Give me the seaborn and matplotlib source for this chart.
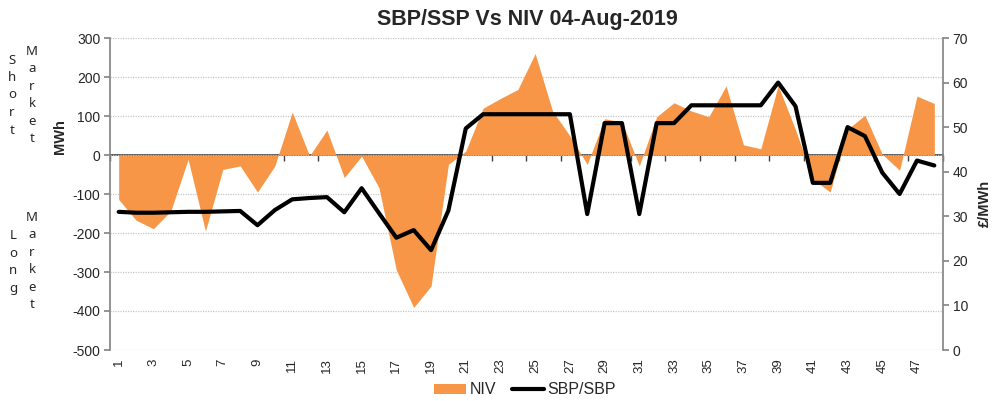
import numpy as np
import matplotlib
matplotlib.use("Agg")
import matplotlib.pyplot as plt
from matplotlib.patches import Patch
from matplotlib.lines import Line2D
import seaborn as sns

# Settlement periods and values
periods = list(range(1, 49))
niv = [-114, -167, -189, -144, -11, -195, -37, -28, -95, -28,
       110, -2, 64, -58, -3, -84, -295, -391, -336, -24,
       10, 120, 145, 168, 260, 113, 49, -24, 93, 85,
       -28, 98, 134, 113, 98, 177, 26, 16, 178, 65,
       -62, -95, 66, 102, 2, -39, 151, 132]
price = [31.0, 30.8, 30.8, 30.9, 31.0, 31.0, 31.1, 31.2, 28.0, 31.4,
         33.8, 34.1, 34.3, 30.9, 36.3, 30.7, 25.2, 26.9, 22.4, 31.3,
         49.7, 52.9, 52.9, 52.9, 52.9, 52.9, 52.9, 30.5, 50.9, 50.9,
         30.5, 50.9, 50.9, 54.9, 54.9, 54.9, 54.9, 54.9, 60.0, 54.7,
         37.5, 37.5, 50.0, 48.0, 39.8, 35.0, 42.5, 41.4]
label_periods = list(range(1, 49, 2))

sns.set_theme(style="white")
plt.rcParams['font.family'] = ['Liberation Sans', 'DejaVu Sans']
plt.rcParams['axes.unicode_minus'] = False

orange = "#F79646"
grey = "#868686"

fig = plt.figure(figsize=(9.93, 4.01), dpi=100)
ax = fig.add_axes([110 / 993, 1 - 350 / 401, 833 / 993, 312 / 401])

# NIV area
ax.fill_between(periods, niv, 0, color=orange, linewidth=0, zorder=2)
ax.set_xlim(0.5, 48.5)
ax.set_ylim(-500, 300)
ax.set_yticks(range(-500, 301, 100))
ax.set_axisbelow(True)
ax.yaxis.grid(True, color="#c8c8c8", linestyle=(0, (1, 1)), linewidth=0.9)
for s in ["top", "bottom", "right"]:
    ax.spines[s].set_visible(False)
ax.spines["left"].set_color(grey)
ax.tick_params(axis="y", direction="out", length=4, color=grey, labelsize=10,
               left=True, pad=3)
ax.set_xticks(label_periods)
ax.set_xticklabels([str(p) for p in label_periods], rotation=90, fontsize=9.5)
ax.tick_params(axis="x", length=0, pad=6, bottom=True)

# zero line acting as category axis, ticks pointing down
zero_pos = 500 / 800
sec = ax.secondary_xaxis(zero_pos)
sec.set_alignment("bottom")
sec.set_xticks(np.arange(0.5, 49, 2))
sec.set_xticklabels([])
sec.tick_params(axis="x", direction="out", length=4, color="#404040", width=1)
sec.spines["bottom"].set_color("#404040")
sec.spines["bottom"].set_linewidth(1.2)

# price line on the right axis
ax2 = ax.twinx()
sns.lineplot(x=periods, y=price, ax=ax2, color="black", linewidth=3,
             legend=False, zorder=5)
ax2.set_ylim(0, 70)
ax2.set_yticks(range(0, 71, 10))
ax2.set_ylabel("")
for s in ["top", "bottom", "left"]:
    ax2.spines[s].set_visible(False)
ax2.spines["right"].set_color(grey)
ax2.tick_params(axis="y", direction="out", length=4, color=grey, labelsize=10,
                right=True, pad=3)

fig.text(527 / 993, 1 - 20 / 401, "SBP/SSP Vs NIV 04-Aug-2019", ha="center",
         va="center", fontsize=15.5, fontweight="bold")
fig.text(60 / 993, 1 - 137 / 401, "MWh", rotation=90, ha="center", va="center",
         fontsize=10.5, fontweight="bold")
fig.text(985 / 993, 1 - 203 / 401, "£/MWh", rotation=90, ha="center",
         va="center", fontsize=10.5, fontweight="bold")

side_font = ['Noto Sans', 'DejaVu Sans']
for txt, x, y in [("Short", 12, 95), ("Market", 32, 95),
                  ("Long", 13, 262), ("Market", 32, 261)]:
    fig.text(x / 993, 1 - y / 401, "\n".join(txt), ha="center", va="center",
             multialignment="center", fontsize=9.5, linespacing=1.45,
             family=side_font)

handles = [Patch(facecolor=orange, edgecolor="none"),
           Line2D([0], [0], color="black", linewidth=3)]
fig.legend(handles, ["NIV", "SBP/SBP"], loc="center",
           bbox_to_anchor=(525 / 993, 1 - 390 / 401), ncol=2, frameon=False,
           fontsize=11.5, handlelength=2.0, handleheight=0.6,
           handletextpad=0.2, columnspacing=1.0)

fig.savefig("out.png", dpi=100)
